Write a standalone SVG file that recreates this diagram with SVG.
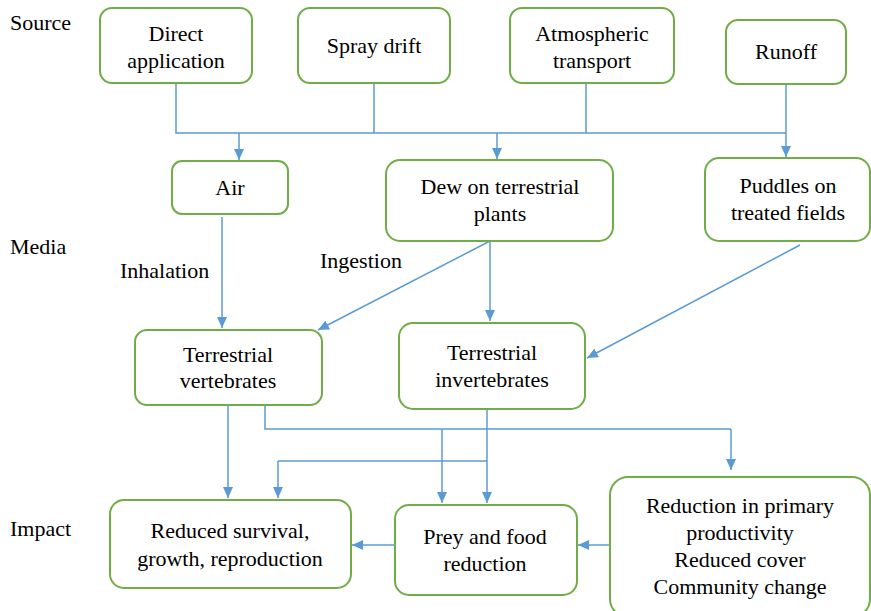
<svg xmlns="http://www.w3.org/2000/svg" width="871" height="611" viewBox="0 0 871 611">
<style>
.box{fill:#fff;stroke:#70AD47;stroke-width:2}
.t{text-anchor:middle}
.c{fill:none;stroke:#5B9BD5;stroke-width:1.5}
.a{marker-end:url(#ah)}
</style>
<defs>
<marker id="ah" markerUnits="userSpaceOnUse" markerWidth="12" markerHeight="12" viewBox="0 0 12 12" refX="11" refY="6" orient="auto">
<path d="M0,1 L11,6 L0,11 Z" fill="#5B9BD5"/>
</marker>
</defs>
<rect width="871" height="611" fill="#fff"/>
<g font-family="Liberation Serif, Times New Roman, DejaVu Serif, serif" font-size="22" fill="#000">
<text x="10" y="30">Source</text>
<text x="10" y="254">Media</text>
<text x="10" y="536">Impact</text>
<text x="120" y="278">Inhalation</text>
<text x="320" y="268">Ingestion</text>
</g>
<g id="connectors">
<path class="c" d="M176,84 V133 H786 M374,84 V133 M586,84 V133"/>
<path class="c a" d="M239,133 V160"/>
<path class="c a" d="M497,133 V159"/>
<path class="c a" d="M786,84 V157"/>
<path class="c a" d="M222,217 V328"/>
<path class="c a" d="M490,241 L318,330"/>
<path class="c a" d="M490,241 V321"/>
<path class="c a" d="M800,245 L587,358"/>
<path class="c a" d="M228,405 V498"/>
<path class="c" d="M265,405 V429 H731"/>
<path class="c a" d="M731,429 V470"/>
<path class="c a" d="M442,429 V503"/>
<path class="c a" d="M487,409 V503"/>
<path class="c" d="M487,461 H278"/>
<path class="c a" d="M278,461 V498"/>
<path class="c a" d="M395,545 H352"/>
<path class="c a" d="M610,545 H578"/>
</g>
<g font-family="Liberation Serif, Times New Roman, DejaVu Serif, serif" font-size="22" fill="#000">
<g id="direct"><rect class="box" x="100" y="8" width="152" height="75" rx="12"/><text class="t" x="176" y="41">Direct</text><text class="t" x="176" y="68">application</text></g>
<g id="spray"><rect class="box" x="298" y="8" width="152" height="75" rx="12"/><text class="t" x="374" y="53">Spray drift</text></g>
<g id="atmos"><rect class="box" x="510" y="8" width="164" height="75" rx="12"/><text class="t" x="592" y="41">Atmospheric</text><text class="t" x="592" y="68">transport</text></g>
<g id="runoff"><rect class="box" x="726" y="20" width="120" height="64" rx="12"/><text class="t" x="786" y="59">Runoff</text></g>
<g id="air"><rect class="box" x="172" y="161" width="116" height="53" rx="10"/><text class="t" x="230" y="195">Air</text></g>
<g id="dew"><rect class="box" x="386" y="160" width="227" height="81" rx="14"/><text class="t" x="500" y="194">Dew on terrestrial</text><text class="t" x="500" y="221">plants</text></g>
<g id="puddles"><rect class="box" x="705" y="158" width="165" height="83" rx="14"/><text class="t" x="788" y="193">Puddles on</text><text class="t" x="788" y="220">treated fields</text></g>
<g id="vertebrates"><rect class="box" x="135" y="330" width="187" height="75" rx="12"/><text class="t" x="228" y="362">Terrestrial</text><text class="t" x="228" y="388">vertebrates</text></g>
<g id="invertebrates"><rect class="box" x="399" y="323" width="186" height="86" rx="14"/><text class="t" x="492" y="360">Terrestrial</text><text class="t" x="492" y="387">invertebrates</text></g>
<g id="survival"><rect class="box" x="110" y="500" width="241" height="88" rx="14"/><text class="t" x="230" y="538">Reduced survival,</text><text class="t" x="230" y="566">growth, reproduction</text></g>
<g id="prey"><rect class="box" x="395" y="505" width="182" height="90" rx="14"/><text class="t" x="485" y="544">Prey and food</text><text class="t" x="485" y="571">reduction</text></g>
<g id="primary"><rect class="box" x="610" y="477" width="260" height="140" rx="18"/><text class="t" x="740" y="513">Reduction in primary</text><text class="t" x="740" y="540">productivity</text><text class="t" x="740" y="567">Reduced cover</text><text class="t" x="740" y="594">Community change</text></g>
</g>
</svg>
